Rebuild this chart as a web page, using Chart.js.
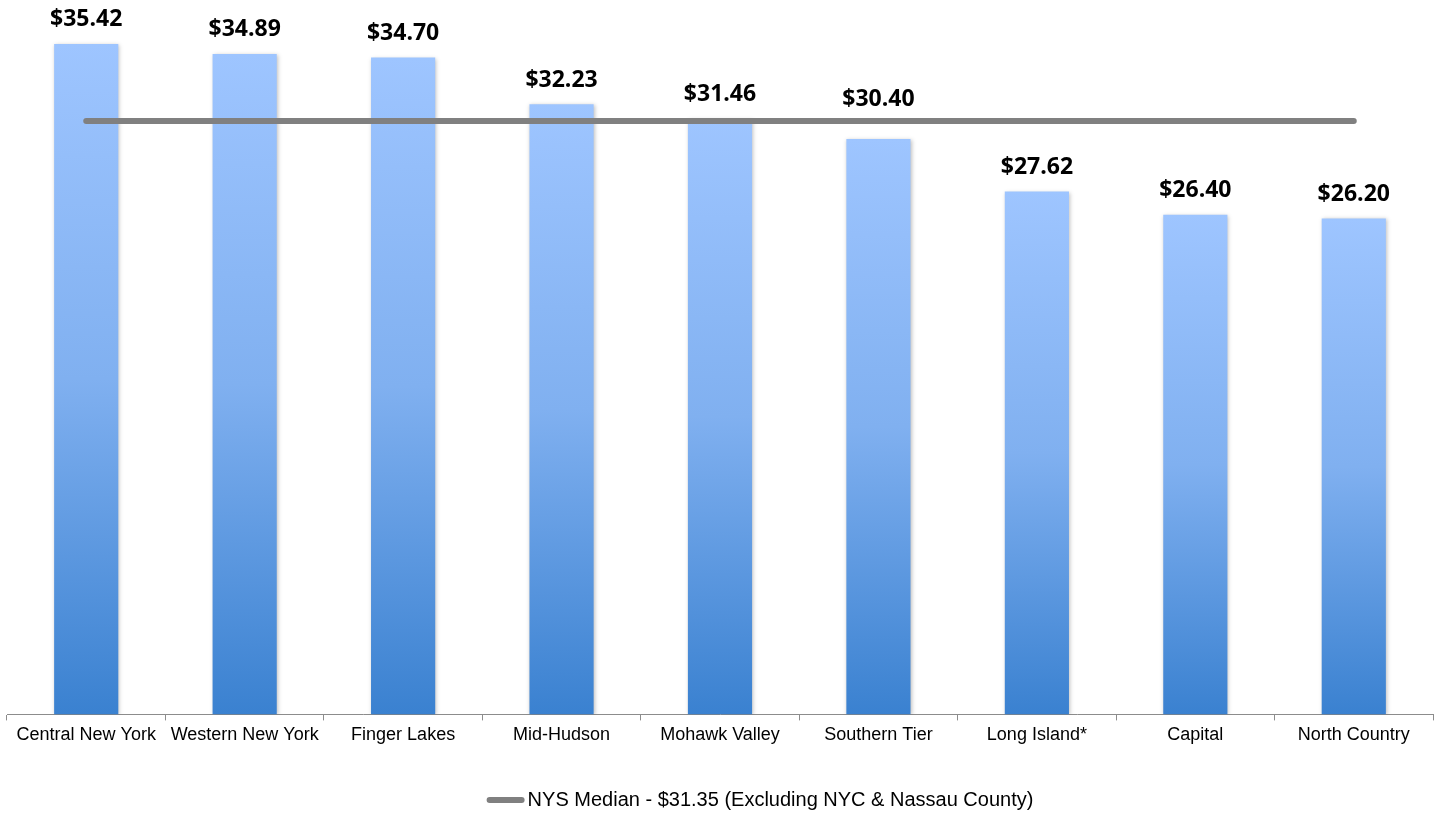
<!DOCTYPE html>
<html><head><meta charset="utf-8">
<style>html,body{margin:0;padding:0;background:#fff;}#wrap{width:1438px;height:813px;}</style>
<script src="https://cdn.jsdelivr.net/npm/chart.js@4.4.1/dist/chart.umd.min.js"></script>
</head><body><div id="wrap"><canvas id="c" width="1438" height="813"></canvas></div>
<script>
const categories = ["Central New York","Western New York","Finger Lakes","Mid-Hudson","Mohawk Valley","Southern Tier","Long Island*","Capital","North Country"];
const wageValues = [35.42,34.89,34.70,32.23,31.46,30.40,27.62,26.40,26.20];
const medianValue = 31.35;
const medianLabel = "NYS Median - $31.35 (Excluding NYC & Nassau County)";
const medianValues = categories.map(() => medianValue);

const MEDIAN_COLOR = '#808080';

function barGradient(ctx){
  const chart = ctx.chart;
  if (!chart.chartArea || !chart.scales.y || ctx.raw == null) return '#7fb0f0';
  const y = chart.scales.y;
  const top = y.getPixelForValue(ctx.raw);
  const base = y.getPixelForValue(0);
  const g = chart.ctx.createLinearGradient(0, top, 0, base);
  g.addColorStop(0, 'rgb(158,197,255)');
  g.addColorStop(0.5, 'rgb(128,176,240)');
  g.addColorStop(1, 'rgb(58,129,208)');
  return g;
}

const labelPlugin = {
  id: 'barLabels',
  afterDatasetsDraw(chart){
    const meta = chart.getDatasetMeta(1);
    const lineY = chart.scales.y.getPixelForValue(medianValue);
    const c = chart.ctx;
    c.save();
    c.font = 'bold 23px "Open Sans", "DejaVu Sans", sans-serif';
    c.fillStyle = '#000';
    c.textAlign = 'center';
    c.textBaseline = 'middle';
    meta.data.forEach((el, i) => {
      let cy = el.y - 24;
      // keep the label clear of the median line
      if (cy + 10 > lineY - 5 && cy - 10 < lineY + 5) cy = lineY - 21;
      c.fillText('$' + wageValues[i].toFixed(2), el.x, cy);
    });
    c.restore();
  }
};

const shadowPlugin = {
  id: 'barShadow',
  beforeDatasetDraw(chart, args){
    if (args.index === 1){ chart.ctx.save(); chart.ctx.shadowColor='rgba(0,0,0,0.25)'; chart.ctx.shadowBlur=4; chart.ctx.shadowOffsetX=1; chart.ctx.shadowOffsetY=1; }
  },
  afterDatasetDraw(chart, args){
    if (args.index === 1){ chart.ctx.restore(); }
  }
};

const legendPlugin = {
  id: 'bottomLegend',
  afterDraw(chart){
    const c = chart.ctx;
    const y = 800;
    c.save();
    c.font = '20px "Liberation Sans", Arial, sans-serif';
    const tw = c.measureText(medianLabel).width;
    const sw = 38;
    const total = sw + 3 + tw;
    const x0 = 760 - total / 2;
    c.strokeStyle = MEDIAN_COLOR;
    c.lineWidth = 6;
    c.lineCap = 'round';
    c.beginPath();
    c.moveTo(x0 + 3, y);
    c.lineTo(x0 + sw - 3, y);
    c.stroke();
    c.fillStyle = '#000';
    c.textAlign = 'left';
    c.textBaseline = 'middle';
    c.fillText(medianLabel, x0 + sw + 3, y);
    c.restore();
  }
};

new Chart(document.getElementById('c'), {
  data: {
    labels: categories,
    datasets: [
      {
        type: 'line',
        label: medianLabel,
        data: medianValues,
        borderColor: MEDIAN_COLOR,
        backgroundColor: MEDIAN_COLOR,
        borderWidth: 6,
        borderCapStyle: 'round',
        pointRadius: 0,
        fill: false,
        order: 0
      },
      {
        type: 'bar',
        label: 'Wage',
        data: wageValues,
        backgroundColor: barGradient,
        borderWidth: 0,
        categoryPercentage: 1.0,
        barPercentage: 0.405,
        order: 1
      }
    ]
  },
  options: {
    responsive: false,
    animation: false,
    layout: { padding: { top: 14, left: 7, right: 5, bottom: 63 } },
    scales: {
      x: {
        offset: true,
        grid: { display: true, drawOnChartArea: false, offset: true, color: '#8c8c8c', tickLength: 6, lineWidth: 1 },
        border: { display: true, color: '#8c8c8c', width: 1 },
        ticks: { color: '#000', font: { family: '"Liberation Sans", Arial, sans-serif', size: 18 }, padding: 4, maxRotation: 0, autoSkip: false }
      },
      y: {
        display: false,
        min: 0,
        max: 37
      }
    },
    plugins: {
      tooltip: { enabled: false },
      legend: { display: false }
    }
  },
  plugins: [labelPlugin, shadowPlugin, legendPlugin]
});
</script></body></html>
